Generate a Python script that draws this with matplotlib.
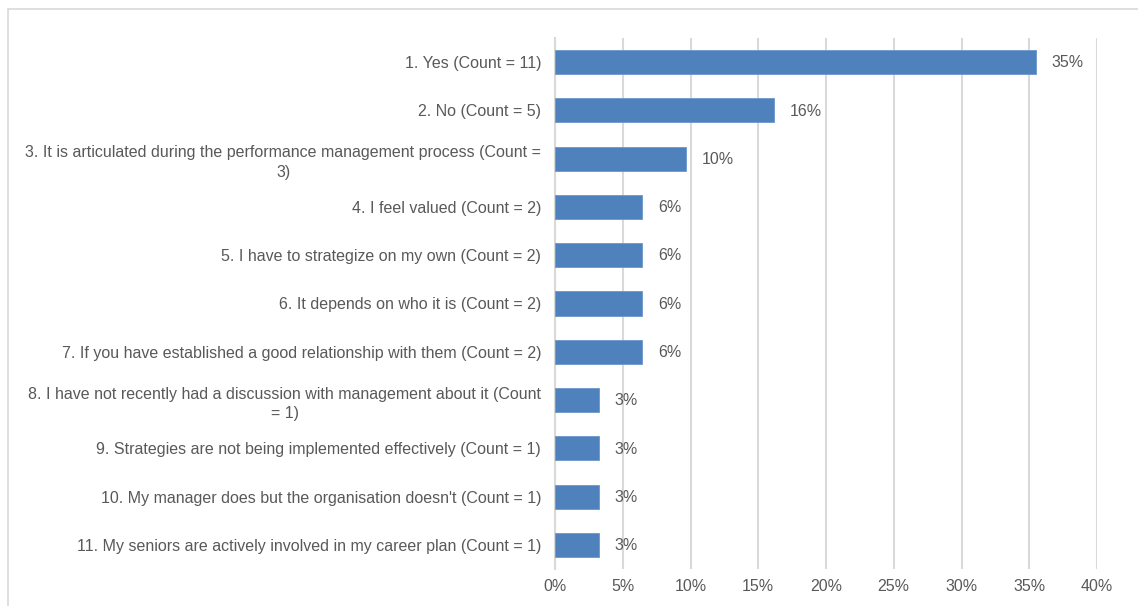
import matplotlib
matplotlib.use("Agg")
from matplotlib import pyplot as plt
from matplotlib.patches import Rectangle

categories = [
    "1. Yes (Count = 11)",
    "2. No (Count = 5)",
    "3. It is articulated during the performance management process (Count =\n3)",
    "4. I feel valued (Count = 2)",
    "5. I have to strategize on my own (Count = 2)",
    "6. It depends on who it is (Count = 2)",
    "7. If you have established a good relationship with them (Count = 2)",
    "8. I have not recently had a discussion with management about it (Count\n= 1)",
    "9. Strategies are not being implemented effectively (Count = 1)",
    "10. My manager does but the organisation doesn't (Count = 1)",
    "11. My seniors are actively involved in my career plan (Count = 1)",
]
percents = [35.48, 16.13, 9.68, 6.45, 6.45, 6.45, 6.45, 3.23, 3.23, 3.23, 3.23]
value_labels = ["35%", "16%", "10%", "6%", "6%", "6%", "6%", "3%", "3%", "3%", "3%"]
xticks = [0, 5, 10, 15, 20, 25, 30, 35, 40]
xtick_labels = ["0%", "5%", "10%", "15%", "20%", "25%", "30%", "35%", "40%"]

plt.rcParams["font.family"] = ["Liberation Sans", "DejaVu Sans"]
text_col = "#595959"
grid_col = "#d9d9d9"
fs = 11.5

fig = plt.figure(figsize=(11.38, 6.06), dpi=100)
# outer chart border (cut off at right and bottom in the reference)
fig.patches.append(Rectangle((8 / 1138, -0.05), 1.2, (606 - 9) / 606 + 0.05,
                             transform=fig.transFigure, fill=False,
                             edgecolor=grid_col, linewidth=1.2))

ax = fig.add_axes([555 / 1138, 37 / 606, (1097 - 555) / 1138, (569 - 38) / 606])

ypos = list(range(len(categories)))
ax.barh(ypos, percents, height=0.5, color="#4F81BD", edgecolor="#6b96c9",
        linewidth=0.6, zorder=3)
for y, v, lab in zip(ypos, percents, value_labels):
    ax.annotate(lab, (v, y), xytext=(11.5, -0.5), textcoords="offset points",
                ha="left", va="center", fontsize=fs, color=text_col)

ax.set_ylim(len(categories) - 0.5, -0.5)
ax.set_xlim(0, 40)
ax.set_yticks(ypos)
ax.set_yticklabels(categories, fontsize=fs, color=text_col,
                   multialignment="center", linespacing=1.4)
ax.set_xticks(xticks)
ax.set_xticklabels(xtick_labels, fontsize=fs, color=text_col)
ax.tick_params(axis="y", length=0, pad=10)
ax.tick_params(axis="x", length=0, pad=7)
ax.grid(axis="x", color=grid_col, linewidth=1.5, zorder=0)
ax.set_axisbelow(True)
for s in ["top", "right", "bottom"]:
    ax.spines[s].set_visible(False)
ax.spines["left"].set_color(grid_col)
ax.spines["left"].set_linewidth(1.5)

plt.savefig("out.png", dpi=100)
